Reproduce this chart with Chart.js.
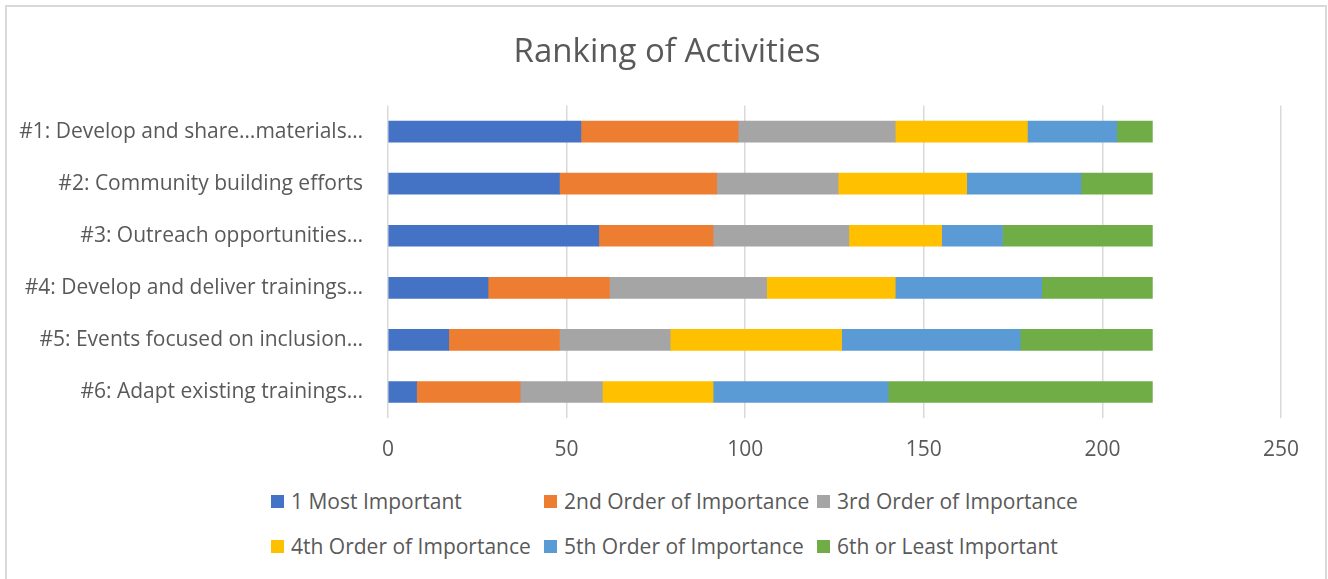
<!DOCTYPE html>
<html>
<head>
<meta charset="utf-8">
<title>Ranking of Activities</title>
<script src="https://cdn.jsdelivr.net/npm/chart.js@4.4.1/dist/chart.umd.min.js"></script>
<style>
  body { margin: 0; background: #fff; font-family: "Open Sans", sans-serif; }
  .frame { position: absolute; left: 5px; top: 5px; width: 1318px; height: 600px; border: 2px solid #d9d9d9; }
  #chartCanvas { position: absolute; left: 0; top: 0; }
  .legend { position: absolute; left: 271px; top: 489px; display: grid; grid-template-columns: 273px 273px 273px; row-gap: 21px; }
  .legend-item { display: flex; align-items: center; height: 24px; color: #595959; font-size: 21px; white-space: nowrap; }
  .legend-box { width: 13px; height: 13px; margin-right: 7px; flex: none; }
</style>
</head>
<body>
<div class="frame"></div>
<canvas id="chartCanvas" width="1328" height="480"></canvas>
<div class="legend" id="legend"></div>
<script>
const getEl = (id) => document.getElementById(id);

const categories = [
    '#1: Develop and share…materials…',
    '#2: Community building efforts',
    '#3: Outreach opportunities…',
    '#4: Develop and deliver trainings…',
    '#5: Events focused on inclusion…',
    '#6: Adapt existing trainings…'
];
const seriesNames = ['1 Most Important', '2nd Order of Importance', '3rd Order of Importance', '4th Order of Importance', '5th Order of Importance', '6th or Least Important'];
const mostImportant = [54, 48, 59, 28, 17, 8];
const secondOrder = [44, 44, 32, 34, 31, 29];
const thirdOrder = [44, 34, 38, 44, 31, 23];
const fourthOrder = [37, 36, 26, 36, 48, 31];
const fifthOrder = [25, 32, 17, 41, 50, 49];
const leastImportant = [10, 20, 42, 31, 37, 74];
const xTicks = [0, 50, 100, 150, 200, 250];

const colors = ['#4472C4', '#ED7D31', '#A5A5A5', '#FFC000', '#5B9BD5', '#70AD47'];
const seriesValues = [mostImportant, secondOrder, thirdOrder, fourthOrder, fifthOrder, leastImportant];
const textColor = '#595959';

const datasets = seriesValues.map((vals, i) => ({
    label: seriesNames[i],
    data: vals,
    backgroundColor: colors[i],
    borderWidth: 0,
    barThickness: 21
}));

new Chart(getEl('chartCanvas').getContext('2d'), {
    type: 'bar',
    data: { labels: categories, datasets: datasets },
    options: {
        indexAxis: 'y',
        responsive: false,
        animation: false,
        // small left padding so the title sits centred like in Excel
        layout: { padding: { left: 6, right: 0, top: 0, bottom: 0 } },
        plugins: {
            legend: { display: false },
            tooltip: { enabled: false },
            title: {
                display: true,
                text: 'Ranking of Activities',
                color: textColor,
                font: { family: '"Open Sans", sans-serif', size: 33, weight: 'normal' },
                padding: { top: 33, bottom: 33 }
            }
        },
        scales: {
            x: {
                stacked: true,
                min: 0, max: 250,
                afterBuildTicks: (scale) => { scale.ticks = xTicks.map(v => ({ value: v })); },
                afterFit: (scale) => { scale.height = 62; scale.paddingRight = 47; },
                grid: { color: '#d9d9d9', lineWidth: 1.5, drawTicks: false },
                border: { display: false },
                ticks: { color: textColor, padding: 19, font: { family: '"Open Sans", sans-serif', size: 21 } }
            },
            y: {
                stacked: true,
                afterFit: (scale) => { scale.width = 382; },
                grid: { display: false, drawTicks: false },
                border: { display: false },
                ticks: { color: textColor, padding: 25, font: { family: '"Open Sans", sans-serif', size: 21 } }
            }
        }
    }
});

// legend laid out as Excel's fixed grid
const legendEl = getEl('legend');
seriesNames.forEach((name, i) => {
    const item = document.createElement('div');
    item.className = 'legend-item';
    item.innerHTML = `<span class="legend-box" style="background:${colors[i]}"></span><span>${name}</span>`;
    legendEl.appendChild(item);
});
</script>
</body>
</html>
